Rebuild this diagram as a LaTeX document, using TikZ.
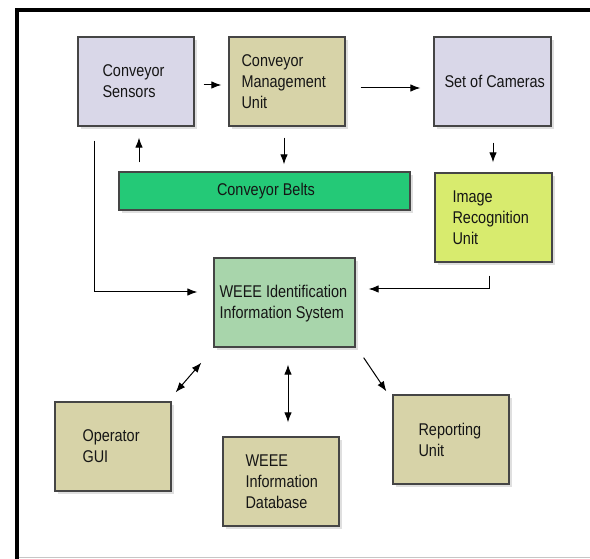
\documentclass[tikz,border=0pt]{standalone}
\usepackage{fontspec}
\setmainfont[FakeStretch=0.85]{Liberation Sans}
\usetikzlibrary{arrows.meta,shadows}
\definecolor{lav}{HTML}{D9D7E8}
\definecolor{khaki}{HTML}{D7D3A8}
\definecolor{belt}{HTML}{24C977}
\definecolor{iruc}{HTML}{D8EB6E}
\definecolor{wisc}{HTML}{A8D5AB}
\definecolor{edge}{HTML}{454545}
\definecolor{ink}{HTML}{151515}
\begin{document}
\begin{tikzpicture}[x=1pt,y=-1pt,
  box/.style={draw=edge,line width=1.3pt,inner sep=0pt,
    drop shadow={shadow xshift=3pt,shadow yshift=-3pt,fill=gray!45,opacity=.55}},
  txt/.style={align=left,inner sep=0pt,text=ink,font=\fontsize{17}{21}\selectfont},
  arr/.style={line width=1pt,-{Latex[length=10pt,width=7.5pt]}},
  darr/.style={line width=1pt,{Latex[length=10pt,width=7.5pt]}-{Latex[length=10pt,width=7.5pt]}}]
\useasboundingbox (0,0) rectangle (590,559);
\fill[white] (0,0) rectangle (590,559);
\draw[line width=4pt] (590,10) -- (17,10) -- (17,559);
\draw[gray!45,line width=1.5pt] (19,557.5) -- (590,557.5);

% boxes
\node[box,fill=lav,minimum width=116pt,minimum height=89pt] (cs) at (136,81.5) {};
\node[box,fill=khaki,minimum width=116pt,minimum height=89pt] (cmu) at (287,81.5) {};
\node[box,fill=lav,minimum width=117pt,minimum height=89pt] (soc) at (492.5,81.5) {};
\node[box,fill=belt,minimum width=291pt,minimum height=38pt] (belt) at (264.5,191) {};
\node[box,fill=iruc,minimum width=117pt,minimum height=89pt] (iru) at (493.5,217.5) {};
\node[box,fill=wisc,minimum width=141pt,minimum height=89pt] (wis) at (284.5,302.5) {};
\node[box,fill=khaki,minimum width=116pt,minimum height=89pt] (gui) at (113,446.5) {};
\node[box,fill=khaki,minimum width=116pt,minimum height=89pt] (db) at (281,481.5) {};
\node[box,fill=khaki,minimum width=116pt,minimum height=89pt] (rep) at (451,439.5) {};

% texts
\node[txt,anchor=west] (cst) at ([xshift=25pt]cs.west) {Conveyor\\Sensors};
\node[txt,anchor=west] (cmut) at ([xshift=13pt]cmu.west) {Conveyor\\Management\\Unit};
\node[txt,anchor=west] (soct) at ([xshift=11pt]soc.west) {Set of Cameras};
\node[txt] (beltt) at ([xshift=1.5pt]belt.center) {Conveyor Belts};
\node[txt,anchor=west] (irut) at ([xshift=18pt]iru.west) {Image\\Recognition\\Unit};
\node[txt,anchor=west] (wist) at ([xshift=6pt,yshift=-1.5pt]wis.west) {WEEE Identification\\Information System};
\node[txt,anchor=west] (guit) at ([xshift=28pt]gui.west) {Operator\\GUI};
\node[txt,anchor=west] (dbt) at ([xshift=23pt]db.west) {WEEE\\Information\\Database};
\node[txt,anchor=west] (rept) at ([xshift=26pt]rep.west) {Reporting\\Unit};

% connectors
\draw[arr,shorten <=9pt,shorten >=7pt] (cs.east |- 0,85) -- (cmu.west |- 0,85);
\draw[arr,shorten <=15pt,shorten >=13pt] (cmu.east |- 0,88) -- (soc.west |- 0,88);
\draw[arr,shorten <=9pt,shorten >=11pt] (belt.north -| 139,0) -- (cs.south -| 139,0);
\draw[arr,shorten <=11pt,shorten >=7pt] (cmu.south -| 284,0) -- (belt.north -| 284,0);
\draw[arr,shorten <=16pt,shorten >=10pt] (soc.south -| 493,0) -- (iru.north -| 493,0);
\draw[arr,shorten <=14pt,shorten >=16pt] (cs.south -| 94,0) |- (wis.west |- 0,292);
\draw[arr,shorten <=13pt,shorten >=13pt] (iru.south -| 489,0) |- (wis.east |- 0,289);
\draw[darr] ([xshift=4pt,yshift=9pt]gui.north east) -- ([xshift=-12pt,yshift=-15pt]wis.south west);
\draw[darr,shorten <=17pt,shorten >=14pt] (wis.south -| 288,0) -- (db.north -| 288,0);
\draw[arr] ([xshift=8pt,yshift=-10pt]wis.south east) -- ([xshift=-6pt,yshift=3pt]rep.north west);
\end{tikzpicture}
\end{document}
